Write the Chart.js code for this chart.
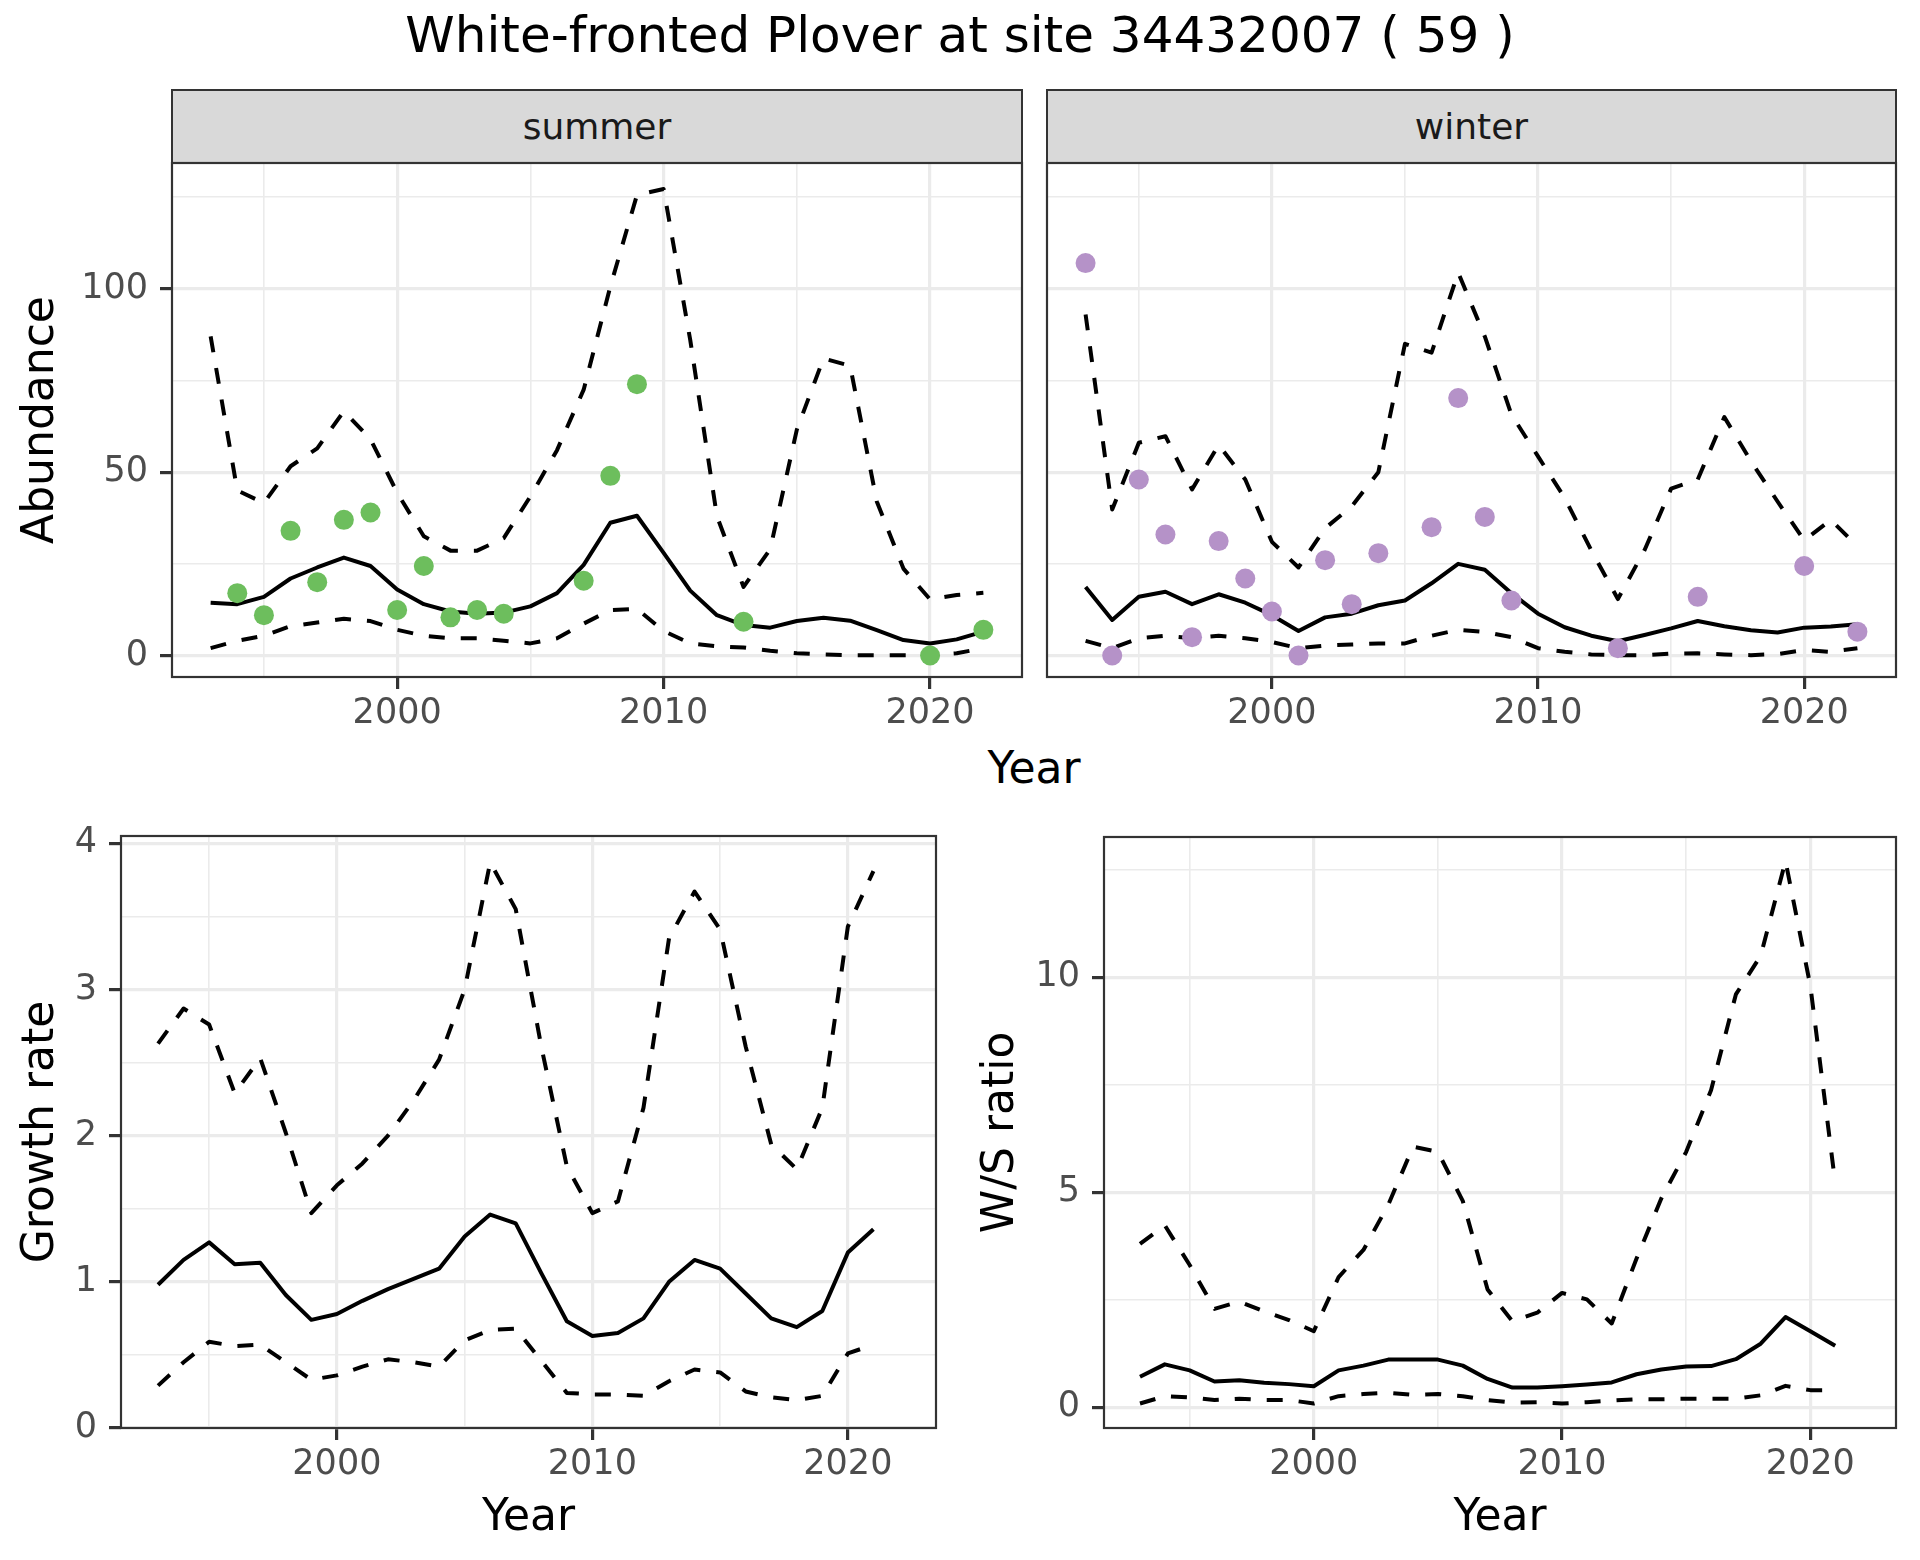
<!DOCTYPE html>
<html>
<head>
<meta charset="utf-8">
<title>White-fronted Plover at site 34432007</title>
<script src="https://cdn.jsdelivr.net/npm/chart.js@4.4.1/dist/chart.umd.min.js"></script>
<style>
  html, body { margin: 0; padding: 0; background: #fff; }
  body { width: 1920px; height: 1560px; position: relative; overflow: hidden; font-family: 'DejaVu Sans', sans-serif; }
  canvas { position: absolute; }
  .title { position: absolute; left: 0; top: 10px; width: 1920px; text-align: center; font-size: 50px; line-height: 50px; color: #000; white-space: nowrap; }
  .strip { position: absolute; box-sizing: border-box; background: #d9d9d9; border: 2.2px solid #333; font-size: 36px; color: #1a1a1a; display: flex; align-items: center; justify-content: center; }
  .xlab { position: absolute; left: 834px; top: 746px; width: 400px; text-align: center; font-size: 44px; line-height: 44px; color: #000; }
</style>
</head>
<body>
<div class="title">White-fronted Plover at site 34432007 ( 59 )</div>
<div class="strip" style="left:171px; top:89px; width:852px; height:75px;">summer</div>
<div class="strip" style="left:1046px; top:89px; width:851px; height:75px;">winter</div>
<div class="xlab">Year</div>

<canvas id="cSummer" width="1030" height="587" style="left:0px; top:150px;"></canvas>
<canvas id="cWinter" width="864" height="587" style="left:1040px; top:150px;"></canvas>
<canvas id="cGrowth" width="944" height="770" style="left:0px; top:790px;"></canvas>
<canvas id="cRatio" width="944" height="770" style="left:960px; top:790px;"></canvas>

<script>
// years for the abundance panels, and for growth / ratio panels
const years = [1993,1994,1995,1996,1997,1998,1999,2000,2001,2002,2003,2004,2005,2006,2007,
               2008,2009,2010,2011,2012,2013,2014,2015,2016,2017,2018,2019,2020,2021,2022]
const years2 = [1993,1994,1995,1996,1997,1998,1999,2000,2001,2002,2003,2004,2005,2006,2007,
                2008,2009,2010,2011,2012,2013,2014,2015,2016,2017,2018,2019,2020,2021]

// summer abundance
const sumFit   = [14.4,14,16,21,24,26.7,24.4,18,14,12,11.4,11.7,13.4,17,24.7,36.2,38.1,28,17.7,11,8.3,7.6,9.4,10.3,9.5,6.9,4.2,3.3,4.4,6.5]
const sumUpper = [87,45,41.6,51.6,56.5,66.6,59,44.4,32.5,28.6,28.6,32,43.4,56,72.5,100.6,125.6,127.2,86,38,18.7,29,61.6,81,79,42,23.7,15.3,16.5,17.1]
const sumLower = [2,4,5.4,8,9,10,9.4,7,5.4,4.7,4.7,4,3.3,4.7,8.7,12.4,12.7,6.7,3.3,2.5,2.2,1.3,0.6,0.3,0.1,0.1,0.1,0.1,0.6,2.0]
const sumCountYears = [1994,1995,1996,1997,1998,1999,2000,2001,2002,2003,2004,2007,2008,2009,2013,2020,2022]
const sumCounts     = [17,11,34,20,37,39,12.4,24.4,10.4,12.4,11.4,20.4,49,74,9.2,0,7]

// winter abundance
const winFit   = [18.7,9.7,16,17.4,14,16.7,14.4,11,6.7,10.4,11.4,13.7,15,19.7,25,23.4,17,11.4,7.7,5.4,3.9,5.6,7.4,9.4,8,6.9,6.3,7.6,7.9,8.5]
const winUpper = [93,39.8,58,59.8,45.3,57.4,48,31,24,34.7,40.7,50,85,82.6,104.4,87,65.7,54.3,43,28.7,15.4,28.7,45.5,48,65,53,42,31.4,37,29.8]
const winLower = [4,2,4.7,5.4,4.7,5.4,4.7,3.7,2,2.7,3,3.3,3.3,5.4,7,6.4,5,2,1,0.3,0.1,0.1,0.5,0.6,0.3,0.1,0.4,1.5,1.0,2.0]
const winCountYears = [1993,1994,1995,1996,1997,1998,1999,2000,2001,2002,2003,2004,2006,2007,2008,2009,2013,2016,2020,2022]
const winCounts     = [107,0,48,33,5,31.2,21,12,0,26,14,27.9,35,70.2,37.8,15,2,16,24.4,6.5]

// growth rate
const grFit   = [0.98,1.15,1.27,1.12,1.13,0.91,0.74,0.78,0.87,0.95,1.02,1.09,1.31,1.46,1.4,1.06,0.73,0.63,0.65,0.75,1.0,1.15,1.09,0.92,0.75,0.69,0.8,1.2,1.36]
const grUpper = [2.63,2.87,2.76,2.29,2.53,2.02,1.47,1.66,1.81,2.0,2.24,2.52,3.0,3.87,3.55,2.61,1.79,1.47,1.55,2.19,3.35,3.67,3.41,2.61,1.94,1.77,2.19,3.43,3.81]
const grLower = [0.29,0.45,0.59,0.56,0.57,0.45,0.33,0.36,0.42,0.47,0.45,0.42,0.6,0.67,0.68,0.46,0.24,0.23,0.23,0.22,0.32,0.4,0.38,0.25,0.21,0.19,0.22,0.51,0.57]

// W/S ratio
const wsFit   = [0.71,1.0,0.86,0.6,0.63,0.57,0.54,0.49,0.86,0.97,1.11,1.11,1.11,0.97,0.66,0.46,0.46,0.49,0.53,0.58,0.77,0.88,0.95,0.96,1.12,1.48,2.1,1.77,1.43]
const wsUpper = [3.8,4.23,3.31,2.29,2.46,2.23,2.03,1.77,3.03,3.66,4.71,6.06,5.94,4.8,2.74,2.0,2.2,2.66,2.51,1.95,3.46,4.86,5.94,7.37,9.6,10.5,12.7,9.8,5.23]
const wsLower = [0.09,0.26,0.23,0.17,0.2,0.17,0.17,0.09,0.26,0.31,0.34,0.29,0.31,0.26,0.17,0.11,0.12,0.09,0.12,0.16,0.19,0.19,0.2,0.2,0.2,0.28,0.5,0.4,0.4]

// tick positions (major get labels, minor only a thin grid line)
const xMajor = [2000, 2010, 2020]
const xMinor = [1995, 2005, 2015]
const abMajor = [0, 50, 100]
const abMinor = [25, 75, 125]
const grMajor = [0, 1, 2, 3, 4]
const grMinor = [0.5, 1.5, 2.5, 3.5]
const wsMajor = [0, 5, 10]
const wsMinor = [2.5, 7.5, 12.5]

Chart.defaults.font.family = "'DejaVu Sans', sans-serif"

const GREEN = '#6dbe5d'
const PURPLE = '#b592c8'

function pts(xs, ys) { return xs.map((x, i) => ({x: x, y: ys[i]})) }

function lineSet(xs, ys, dashed) {
  return { data: pts(xs, ys), borderColor: '#000', borderWidth: 4, borderDash: dashed ? [16, 16] : [],
           borderJoinStyle: 'round', pointRadius: 0, order: 2 }
}
function dotSet(xs, ys, col) {
  return { data: pts(xs, ys), showLine: false, backgroundColor: col, borderWidth: 0,
           pointRadius: 10, pointHoverRadius: 10, order: 1 }
}

function isMajor(list, c) { return !!(c.tick && list.includes(c.tick.value)) }

function gridOpts(major, showTicks) {
  return {
    color: '#ebebeb',
    lineWidth: c => isMajor(major, c) ? 3.2 : 1.6,
    drawTicks: showTicks, tickLength: 12, tickWidth: 3.2,
    tickColor: c => isMajor(major, c) ? '#333333' : 'rgba(0,0,0,0)'
  }
}

function xScale(major, minor, h, title) {
  return {
    type: 'linear', min: 1991.55, max: 2023.45,
    afterBuildTicks: s => { s.ticks = major.concat(minor).sort((a, b) => a - b).map(v => ({value: v})) },
    afterFit: s => { s.height = h; s.paddingLeft = 0; s.paddingRight = 0; s.paddingTop = 0; s.paddingBottom = 0 },
    ticks: { autoSkip: false, maxRotation: 0, padding: 4, color: '#4d4d4d', font: {size: 35},
             callback: v => major.includes(v) ? String(v) : '' },
    grid: gridOpts(major, true),
    border: { display: false },
    title: { display: !!title, text: title || '', color: '#000', font: {size: 44}, padding: {top: 0, bottom: 14.8} }
  }
}

function yScale(min, max, major, minor, w, labels, title) {
  return {
    type: 'linear', min: min, max: max,
    afterBuildTicks: s => { s.ticks = major.concat(minor).sort((a, b) => a - b).map(v => ({value: v})) },
    afterFit: s => { s.width = w; s.paddingLeft = 0; s.paddingRight = 0; s.paddingTop = 0; s.paddingBottom = 0 },
    ticks: { display: labels, autoSkip: false, padding: 12, color: '#4d4d4d', font: {size: 35},
             callback: v => major.includes(v) ? String(v) : '' },
    grid: gridOpts(major, labels),
    border: { display: false },
    title: { display: !!title, text: title || '', color: '#000', font: {size: 44}, padding: {top: 15, bottom: 0} }
  }
}

// ggplot style frame round each panel, on top of the data
const panelBorder = {
  id: 'panelBorder',
  afterDatasetsDraw(chart) {
    const {ctx, chartArea: a} = chart
    ctx.save()
    ctx.strokeStyle = '#333333'
    ctx.lineWidth = 2.2
    ctx.strokeRect(a.left, a.top, a.right - a.left, a.bottom - a.top)
    ctx.restore()
  }
}

function panel(id, datasets, xs, ys, padTop) {
  return new Chart(document.getElementById(id), {
    type: 'line',
    data: { datasets: datasets },
    options: {
      responsive: false, animation: false,
      layout: { autoPadding: false, padding: { top: padTop, right: 8, left: 0, bottom: 0 } },
      plugins: { legend: { display: false }, tooltip: { enabled: false } },
      scales: { x: xs, y: ys }
    },
    plugins: [panelBorder]
  })
}

panel('cSummer', [
  dotSet(sumCountYears, sumCounts, GREEN),
  lineSet(years, sumFit, false),
  lineSet(years, sumUpper, true),
  lineSet(years, sumLower, true)
], xScale(xMajor, xMinor, 60), yScale(-5.86, 134.3, abMajor, abMinor, 172, true, 'Abundance'), 13)

panel('cWinter', [
  dotSet(winCountYears, winCounts, PURPLE),
  lineSet(years, winFit, false),
  lineSet(years, winUpper, true),
  lineSet(years, winLower, true)
], xScale(xMajor, xMinor, 60), yScale(-5.86, 134.3, abMajor, abMinor, 7, false), 13)

panel('cGrowth', [
  lineSet(years2, grFit, false),
  lineSet(years2, grUpper, true),
  lineSet(years2, grLower, true)
], xScale(xMajor, xMinor, 132, 'Year'), yScale(0, 4.05, grMajor, grMinor, 121, true, 'Growth rate'), 46)

panel('cRatio', [
  lineSet(years2, wsFit, false),
  lineSet(years2, wsUpper, true),
  lineSet(years2, wsLower, true)
], xScale(xMajor, xMinor, 132, 'Year'), yScale(-0.48, 13.26, wsMajor, wsMinor, 144, true, 'W/S ratio'), 47)
</script>
</body>
</html>
